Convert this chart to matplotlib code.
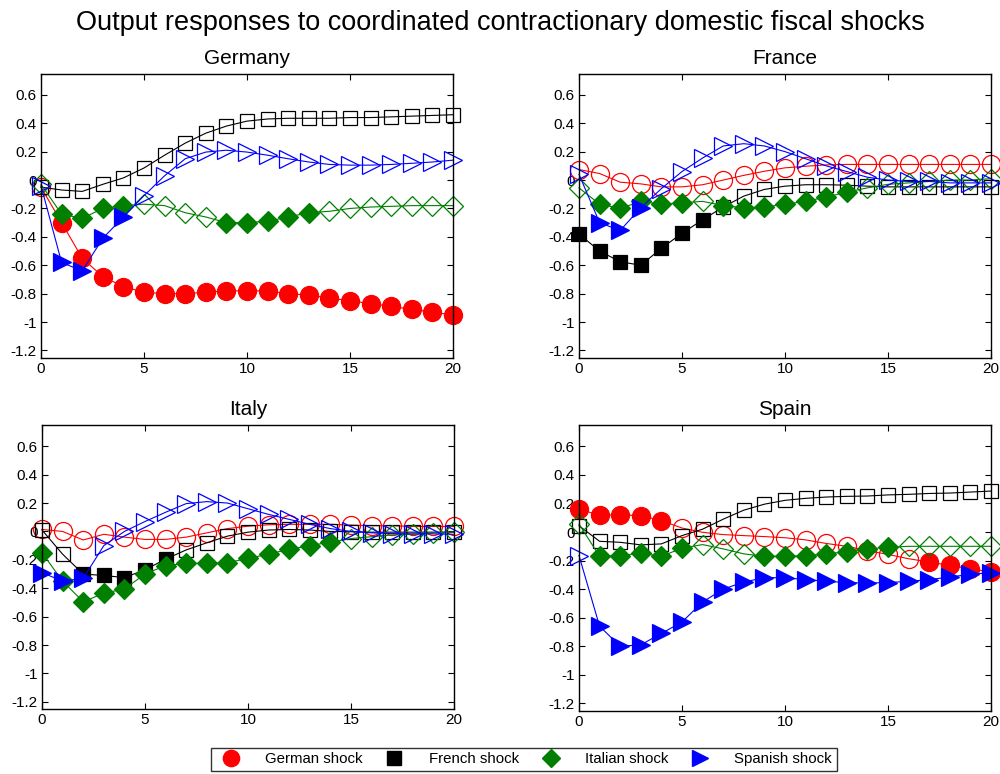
import numpy as np
import matplotlib
matplotlib.use('Agg')
from matplotlib import pyplot as plt
from matplotlib.lines import Line2D

plt.rcParams['font.family'] = ['Liberation Sans', 'DejaVu Sans']

# horizon
t = np.arange(21)

# responses: rows = shock origin (German, French, Italian, Spanish), per country panel
germany = {
    'de': [-0.05, -0.30, -0.55, -0.68, -0.75, -0.79, -0.80, -0.80, -0.79, -0.78, -0.78,
           -0.78, -0.80, -0.81, -0.83, -0.85, -0.87, -0.89, -0.91, -0.93, -0.95],
    'fr': [-0.05, -0.07, -0.08, -0.03, 0.015, 0.085, 0.175, 0.26, 0.33, 0.38, 0.415,
           0.43, 0.435, 0.435, 0.435, 0.44, 0.44, 0.445, 0.45, 0.455, 0.46],
    'it': [-0.03, -0.24, -0.27, -0.20, -0.18, -0.17, -0.18, -0.23, -0.26, -0.30, -0.30,
           -0.29, -0.26, -0.23, -0.22, -0.20, -0.19, -0.185, -0.18, -0.18, -0.18],
    'es': [-0.04, -0.58, -0.64, -0.41, -0.26, -0.11, 0.03, 0.15, 0.197, 0.21, 0.197,
           0.175, 0.15, 0.127, 0.11, 0.105, 0.105, 0.11, 0.118, 0.127, 0.14],
}
france = {
    'de': [0.074, 0.046, -0.015, -0.027, -0.048, -0.048, -0.033, 0.0, 0.033, 0.062, 0.086,
           0.097, 0.107, 0.11, 0.11, 0.11, 0.11, 0.11, 0.11, 0.11, 0.11],
    'fr': [-0.38, -0.50, -0.575, -0.60, -0.48, -0.375, -0.28, -0.19, -0.113, -0.066, -0.043,
           -0.033, -0.033, -0.036, -0.043, -0.048, -0.048, -0.048, -0.048, -0.048, -0.048],
    'it': [-0.055, -0.17, -0.20, -0.15, -0.17, -0.16, -0.15, -0.18, -0.195, -0.19, -0.17,
           -0.15, -0.12, -0.085, -0.055, -0.03, -0.02, -0.01, 0.0, 0.0, 0.01],
    'es': [0.04, -0.30, -0.355, -0.195, -0.06, 0.06, 0.155, 0.24, 0.256, 0.24, 0.20,
           0.15, 0.10, 0.06, 0.02, 0.0, -0.01, -0.01, -0.02, -0.02, -0.02],
}
italy = {
    'de': [0.014, 0.0, -0.06, -0.02, -0.04, -0.056, -0.056, -0.04, -0.01, 0.02, 0.037,
           0.047, 0.05, 0.05, 0.05, 0.045, 0.04, 0.04, 0.035, 0.035, 0.035],
    'fr': [0.01, -0.16, -0.30, -0.31, -0.325, -0.27, -0.195, -0.13, -0.08, -0.033, -0.005,
           0.01, 0.014, 0.01, 0.0, -0.002, -0.005, -0.005, -0.005, -0.005, -0.005],
    'it': [-0.15, -0.35, -0.495, -0.435, -0.405, -0.30, -0.24, -0.225, -0.225, -0.22, -0.19,
           -0.16, -0.125, -0.10, -0.075, -0.05, -0.037, -0.025, -0.02, -0.01, -0.003],
    'es': [-0.29, -0.35, -0.33, -0.10, 0.0, 0.07, 0.135, 0.196, 0.21, 0.20, 0.16,
           0.12, 0.085, 0.05, 0.02, 0.0, -0.01, -0.015, -0.017, -0.017, -0.02],
}
spain = {
    'de': [0.16, 0.118, 0.12, 0.114, 0.08, 0.028, -0.002, -0.018, -0.025, -0.032, -0.04,
           -0.055, -0.08, -0.10, -0.13, -0.157, -0.187, -0.21, -0.234, -0.257, -0.28],
    'fr': [0.044, -0.065, -0.072, -0.09, -0.083, -0.025, 0.02, 0.09, 0.153, 0.195, 0.222,
           0.236, 0.245, 0.25, 0.252, 0.26, 0.264, 0.27, 0.273, 0.28, 0.287],
    'it': [0.056, -0.17, -0.165, -0.148, -0.17, -0.113, -0.088, -0.118, -0.153, -0.17, -0.17,
           -0.165, -0.153, -0.137, -0.118, -0.107, -0.10, -0.10, -0.10, -0.10, -0.10],
    'es': [-0.165, -0.66, -0.80, -0.79, -0.71, -0.63, -0.49, -0.40, -0.35, -0.32, -0.32,
           -0.333, -0.345, -0.354, -0.357, -0.354, -0.345, -0.333, -0.315, -0.296, -0.285],
}

# periods with filled (significant) markers
germany_sig = {'de': list(range(1, 21)), 'fr': [], 'it': [1, 2, 3, 4, 9, 10, 11, 12, 13],
               'es': [1, 2, 3, 4]}
france_sig = {'de': [], 'fr': [0, 1, 2, 3, 4, 5, 6],
              'it': [1, 2, 3, 4, 5, 7, 8, 9, 10, 11, 12, 13], 'es': [1, 2, 3]}
italy_sig = {'de': [], 'fr': [2, 3, 4, 5, 6], 'it': list(range(0, 15)), 'es': [0, 1, 2]}
spain_sig = {'de': [0, 1, 2, 3, 4, 17, 18, 19, 20], 'fr': [],
             'it': [1, 2, 3, 4, 5, 9, 10, 11, 12, 13, 14, 15], 'es': list(range(1, 21))}

panels = [('Germany', germany, germany_sig), ('France', france, france_sig),
          ('Italy', italy, italy_sig), ('Spain', spain, spain_sig)]

shocks = ['de', 'fr', 'it', 'es']
labels = ['German shock', 'French shock', 'Italian shock', 'Spanish shock']
colors = {'de': '#ff0000', 'fr': '#000000', 'it': '#007f00', 'es': '#0000ff'}
markers = {'de': 'o', 'fr': 's', 'it': 'D', 'es': '>'}
msizes = {'de': 13, 'fr': 10.5, 'it': 10, 'es': 12.5}

fig = plt.figure(figsize=(10, 7.74), dpi=100)
positions = [[0.041, 0.538, 0.412, 0.367], [0.579, 0.538, 0.412, 0.367],
             [0.042, 0.084, 0.412, 0.367], [0.579, 0.082, 0.412, 0.369]]

yticks = [0.6, 0.4, 0.2, 0, -0.2, -0.4, -0.6, -0.8, -1, -1.2]
yticklabels = ['0.6', '0.4', '0.2', '0', '-0.2', '-0.4', '-0.6', '-0.8', '-1', '-1.2']

for pos, (name, data, sig) in zip(positions, panels):
    ax = fig.add_axes(pos)
    for s in shocks:
        y = np.array(data[s])
        filled = np.isin(t, sig[s])
        c = colors[s]
        ax.plot(t, y, color=c, lw=0.8, clip_on=False)
        ax.plot(t[~filled], y[~filled], ls='none', marker=markers[s], ms=msizes[s],
                mfc='none', mec=c, mew=0.9, clip_on=False)
        ax.plot(t[filled], y[filled], ls='none', marker=markers[s], ms=msizes[s],
                mfc=c, mec=c, mew=0.9, clip_on=False)
    ax.set_xlim(0, 20)
    ax.set_ylim(-1.25, 0.75)
    ax.set_xticks([0, 5, 10, 15, 20])
    ax.set_yticks(yticks)
    ax.set_yticklabels(yticklabels)
    ax.tick_params(direction='in', top=True, right=True, labelsize=11, length=4, pad=3)
    for sp in ax.spines.values():
        sp.set_linewidth(1.0)
    ax.set_title(name, fontsize=15, pad=7)

fig.suptitle('Output responses to coordinated contractionary domestic fiscal shocks',
             fontsize=19.5, y=0.987)

handles = [Line2D([], [], ls='none', marker=markers[s], ms=msizes[s] * 0.9,
                  mfc=colors[s], mec=colors[s]) for s in shocks]
fig.legend(handles, labels, loc='center', bbox_to_anchor=(0.524, 0.019), ncol=4,
           fontsize=10.8, frameon=True, fancybox=False, edgecolor='black',
           columnspacing=1.1, handletextpad=1.3, borderpad=0.3)

fig.savefig('out.png', dpi=100)
